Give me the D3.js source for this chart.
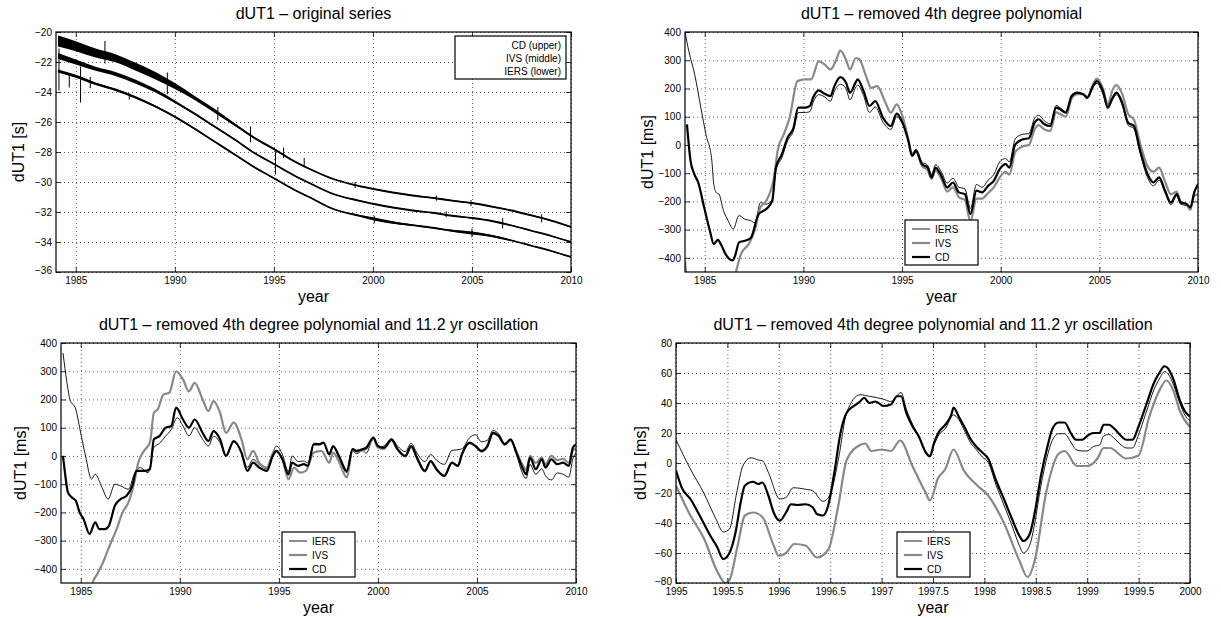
<!DOCTYPE html>
<html>
<head>
<meta charset="utf-8">
<script src="https://cdn.jsdelivr.net/npm/d3@7"></script>
<style>
  body { margin: 0; background: #fff; }
  text { font-family: "Liberation Sans", Arial, Helvetica, sans-serif; fill: #000; }
</style>
</head>
<body>
<svg id="chart" width="1221" height="618"></svg>
<script>
// ---- tick labels ----
const yearTicks = [1985, 1990, 1995, 2000, 2005, 2010];
const secTicks = [-36, -34, -32, -30, -28, -26, -24, -22, -20];
const msTicks = [-400, -300, -200, -100, 0, 100, 200, 300, 400];
const zoomYearTicks = [1995, 1995.5, 1996, 1996.5, 1997, 1997.5, 1998, 1998.5, 1999, 1999.5, 2000];
const zoomMsTicks = [-80, -60, -40, -20, 0, 20, 40, 60, 80];

// ---- panel 1: original series [s] ----
const p1Years = [1984.1,1985,1986,1987,1988,1989,1990,1991,1992,1993,1994,1995,1996,1997,1998,1998.5,1999,2000,2001,2002,2003,2004,2005,2006,2007,2008,2009,2010];
const p1CD   = [-20.6,-20.95,-21.4,-21.75,-22.3,-22.9,-23.6,-24.4,-25.25,-26.15,-27.05,-27.8,-28.6,-29.25,-29.8,-30.0,-30.18,-30.46,-30.7,-30.9,-31.06,-31.24,-31.4,-31.64,-31.9,-32.23,-32.57,-33.0];
const p1IVS  = [-21.6,-22.0,-22.45,-22.8,-23.3,-23.9,-24.65,-25.45,-26.3,-27.15,-28.05,-28.8,-29.55,-30.2,-30.8,-31.0,-31.15,-31.45,-31.7,-31.9,-32.05,-32.25,-32.4,-32.6,-32.9,-33.25,-33.6,-34.0];
const p1IERS = [-22.6,-22.95,-23.45,-23.85,-24.35,-24.95,-25.65,-26.45,-27.3,-28.15,-29.0,-29.75,-30.5,-31.15,-31.8,-32.0,-32.15,-32.45,-32.7,-32.88,-33.05,-33.25,-33.4,-33.6,-33.9,-34.25,-34.6,-35.0];
// scatter half-width of each series [s]
const p1CDSpread   = [0.36,0.33,0.3,0.27,0.26,0.25,0.2,0.14,0.13,0.09,0.07,0.06,0.05,0.04,0.04,0.04,0.04,0.04,0.04,0.04,0.04,0.04,0.04,0.04,0.04,0.04,0.04,0.04];
const p1IVSSpread  = [0.2,0.17,0.14,0.14,0.13,0.11,0.09,0.06,0.05,0.05,0.04,0.04,0.04,0.04,0.04,0.04,0.04,0.04,0.04,0.04,0.04,0.04,0.04,0.04,0.04,0.04,0.04,0.04];
const p1IERSSpread = [0.1,0.1,0.09,0.08,0.08,0.07,0.06,0.05,0.04,0.04,0.04,0.04,0.04,0.04,0.04,0.04,0.04,0.1,0.08,0.04,0.04,0.06,0.1,0.06,0.04,0.04,0.04,0.04];
// outliers: [year, low, high]
const p1Spikes = [[1984.15,-21.1,-23.9],[1984.67,-22.8,-23.7],[1985.24,-22.3,-24.7],[1985.73,-23.0,-23.75],[1986.47,-20.6,-22.1],[1987.7,-24.1,-24.5],[1989.62,-22.7,-24.15],[1992.17,-25.0,-25.9],[1993.82,-26.3,-27.35],[1995.08,-27.95,-29.5],[1995.49,-27.7,-28.4],[1996.53,-28.4,-29.0],[1999.1,-30.0,-30.4],[2000.07,-32.25,-32.75],[2003.2,-30.9,-31.25],[2003.7,-31.95,-32.35],[2004.95,-31.2,-31.6],[2005.0,-33.1,-33.7],[2006.55,-32.4,-33.1],[2008.52,-32.15,-32.7]];

// ---- panel 2: removed 4th degree polynomial [ms] ----
const p2IERS = [[1984.0,400],[1984.2,330],[1984.49,250],[1984.81,130],[1985.06,38],[1985.36,-56],[1985.46,-140],[1985.6,-170],[1985.72,-174],[1985.95,-233],[1986.2,-270],[1986.44,-298],[1986.74,-250],[1987.0,-262],[1987.33,-268],[1987.55,-276],[1987.82,-204],[1988.1,-210],[1988.42,-195],[1988.61,-90],[1988.91,-45],[1989.2,15],[1989.5,50],[1989.74,115],[1990.1,115],[1990.33,118],[1990.49,150],[1990.78,178],[1991.08,170],[1991.37,155],[1991.57,190],[1991.87,215],[1992.16,200],[1992.36,160],[1992.66,205],[1992.75,212],[1993.05,175],[1993.35,115],[1993.64,135],[1994.04,80],[1994.43,55],[1994.73,100],[1995.02,75],[1995.32,20],[1995.51,-30],[1995.71,-15],[1996.01,-60],[1996.3,-72],[1996.5,-105],[1996.7,-70],[1996.99,-95],[1997.29,-135],[1997.58,-118],[1997.88,-150],[1998.18,-155],[1998.47,-225],[1998.77,-140],[1999.06,-150],[1999.36,-125],[1999.65,-105],[1999.95,-60],[2000.25,-48],[2000.44,-60],[2000.74,22],[2001.13,38],[2001.43,40],[2001.72,95],[2001.92,105],[2002.22,85],[2002.51,75],[2002.81,140],[2003.01,132],[2003.3,118],[2003.6,178],[2003.89,185],[2004.19,178],[2004.39,165],[2004.68,205],[2004.88,218],[2005.18,180],[2005.43,128],[2005.67,160],[2005.87,178],[2006.16,140],[2006.46,70],[2006.75,58],[2007.05,-25],[2007.44,-115],[2007.74,-145],[2008.03,-125],[2008.33,-170],[2008.63,-212],[2008.92,-180],[2009.12,-210],[2009.42,-215],[2009.61,-225],[2009.81,-170],[2010,-140]];
const p2IVS = [[1984.0,-410],[1984.1,-470],[1986.5,-470],[1986.58,-450],[1986.84,-386],[1987.23,-351],[1987.53,-304],[1987.82,-221],[1988.12,-198],[1988.51,-115],[1988.71,-15],[1989.01,38],[1989.3,96],[1989.7,226],[1990.09,232],[1990.39,232],[1990.78,296],[1991.08,285],[1991.37,267],[1991.67,302],[1991.87,334],[1992.16,302],[1992.36,267],[1992.66,308],[1992.85,302],[1993.15,249],[1993.44,202],[1993.74,208],[1994.13,155],[1994.43,114],[1994.73,144],[1995.02,102],[1995.32,20],[1995.51,-35],[1995.71,-25],[1996.01,-75],[1996.3,-90],[1996.5,-120],[1996.7,-90],[1996.99,-120],[1997.29,-165],[1997.58,-150],[1997.88,-185],[1998.18,-195],[1998.47,-270],[1998.77,-190],[1999.06,-190],[1999.36,-170],[1999.65,-150],[1999.95,-115],[2000.25,-95],[2000.44,-105],[2000.74,-25],[2001.13,-5],[2001.43,0],[2001.72,55],[2001.92,70],[2002.22,55],[2002.51,50],[2002.81,115],[2003.01,110],[2003.3,100],[2003.6,165],[2003.89,180],[2004.19,180],[2004.39,170],[2004.68,215],[2004.88,235],[2005.18,200],[2005.43,145],[2005.67,195],[2005.87,212],[2006.16,180],[2006.46,110],[2006.75,90],[2007.05,10],[2007.44,-75],[2007.74,-95],[2008.03,-80],[2008.33,-130],[2008.63,-175],[2008.92,-165],[2009.12,-200],[2009.42,-210],[2009.61,-230],[2009.81,-180],[2010,-175]];
const p2CD = [[1984.1,73],[1984.28,-56],[1984.47,-103],[1984.67,-133],[1984.97,-221],[1985.26,-304],[1985.46,-351],[1985.66,-336],[1985.85,-356],[1986.05,-386],[1986.41,-409],[1986.54,-392],[1986.74,-345],[1987.04,-339],[1987.33,-330],[1987.73,-245],[1988.12,-227],[1988.42,-198],[1988.61,-80],[1988.91,-33],[1989.2,26],[1989.5,61],[1989.74,132],[1990.1,132],[1990.33,138],[1990.49,167],[1990.78,193],[1991.08,181],[1991.37,173],[1991.57,208],[1991.87,240],[1992.16,220],[1992.36,185],[1992.66,223],[1992.75,232],[1993.05,191],[1993.35,138],[1993.64,155],[1994.04,96],[1994.43,67],[1994.73,111],[1995.02,79],[1995.32,14],[1995.51,-39],[1995.71,-21],[1996.01,-68],[1996.3,-80],[1996.5,-115],[1996.7,-80],[1996.99,-109],[1997.29,-151],[1997.58,-133],[1997.88,-168],[1998.18,-174],[1998.47,-245],[1998.77,-162],[1999.06,-168],[1999.36,-145],[1999.65,-127],[1999.95,-86],[2000.25,-68],[2000.44,-80],[2000.74,2],[2001.13,20],[2001.43,24],[2001.72,79],[2001.92,91],[2002.22,73],[2002.51,67],[2002.81,132],[2003.01,126],[2003.3,114],[2003.6,173],[2003.89,185],[2004.19,179],[2004.39,167],[2004.68,208],[2004.88,226],[2005.18,191],[2005.43,134],[2005.67,167],[2005.87,185],[2006.16,149],[2006.46,79],[2006.75,67],[2007.05,-15],[2007.44,-103],[2007.74,-133],[2008.03,-115],[2008.33,-162],[2008.63,-204],[2008.92,-174],[2009.12,-204],[2009.42,-209],[2009.61,-221],[2009.81,-168],[2010,-139]];

// ---- panel 3: removed polynomial and 11.2 yr oscillation [ms] ----
const p3IERS = [[1984.1,365],[1984.3,260],[1984.45,200],[1984.75,165],[1984.94,100],[1985.24,0],[1985.54,-82],[1985.73,-65],[1986.07,-112],[1986.38,-153],[1986.72,-100],[1987.01,-106],[1987.4,-118],[1987.7,-65],[1988.0,-41],[1988.39,-60],[1988.69,30],[1988.98,45],[1989.28,70],[1989.57,94],[1989.87,135],[1990.16,106],[1990.46,71],[1990.75,100],[1991.15,59],[1991.44,35],[1991.7,70],[1992.03,47],[1992.33,0],[1992.72,48],[1993.11,15],[1993.41,-40],[1993.7,-12],[1994.0,-30],[1994.39,-45],[1994.69,12],[1994.88,35],[1995.18,5],[1995.48,-55],[1995.67,0],[1995.97,-20],[1996.26,-18],[1996.46,-25],[1996.76,45],[1997.05,44],[1997.25,46],[1997.54,3],[1997.74,32],[1998.03,-5],[1998.43,-60],[1998.72,17],[1998.92,8],[1999.22,19],[1999.41,10],[1999.77,61],[2000.0,30],[2000.3,35],[2000.69,60],[2000.99,35],[2001.38,15],[2001.68,45],[2001.97,10],[2002.37,-20],[2002.66,5],[2002.96,-15],[2003.35,-30],[2003.74,20],[2004.04,22],[2004.24,25],[2004.63,65],[2004.93,75],[2005.22,50],[2005.52,55],[2005.81,90],[2006.1,78],[2006.4,45],[2006.7,55],[2006.99,5],[2007.29,-60],[2007.48,-80],[2007.68,-30],[2007.97,-65],[2008.27,-45],[2008.46,-70],[2008.76,-85],[2009.05,-60],[2009.35,-65],[2009.64,-75],[2009.84,-10],[2010,10]];
const p3IVS = [[1984.1,-480],[1985.55,-480],[1985.6,-450],[1985.83,-418],[1986.13,-376],[1986.42,-324],[1986.81,-259],[1987.11,-200],[1987.4,-165],[1987.7,-94],[1987.9,-24],[1988.19,18],[1988.49,47],[1988.69,153],[1988.88,165],[1989.18,218],[1989.47,224],[1989.81,300],[1990.16,271],[1990.46,229],[1990.75,259],[1991.15,200],[1991.44,159],[1991.7,194],[1992.03,153],[1992.33,82],[1992.72,118],[1993.11,59],[1993.41,-12],[1993.7,18],[1994.0,-24],[1994.39,-41],[1994.78,18],[1995.18,-12],[1995.48,-82],[1995.77,-41],[1996.07,-59],[1996.36,-53],[1996.76,12],[1997.15,18],[1997.54,-24],[1997.74,12],[1998.03,-20],[1998.43,-76],[1998.72,24],[1998.92,15],[1999.22,20],[1999.41,25],[1999.77,60],[2000.0,30],[2000.3,25],[2000.69,55],[2000.99,22],[2001.38,-2],[2001.68,32],[2001.97,-8],[2002.37,-55],[2002.66,-20],[2002.96,-48],[2003.35,-70],[2003.74,-25],[2004.04,-35],[2004.24,5],[2004.63,45],[2004.93,35],[2005.22,15],[2005.52,32],[2005.81,80],[2006.1,70],[2006.4,40],[2006.7,55],[2006.99,15],[2007.29,-30],[2007.48,-50],[2007.68,0],[2007.97,-25],[2008.27,-5],[2008.46,-30],[2008.76,0],[2009.05,-15],[2009.35,-10],[2009.64,-25],[2009.84,20],[2010,25]];
const p3CD = [[1984.1,0],[1984.2,-59],[1984.35,-129],[1984.55,-147],[1984.75,-159],[1984.94,-200],[1985.14,-224],[1985.44,-276],[1985.73,-235],[1985.93,-259],[1986.22,-259],[1986.42,-247],[1986.72,-176],[1987.01,-153],[1987.31,-141],[1987.6,-106],[1987.8,-53],[1988.19,-53],[1988.49,-47],[1988.69,59],[1988.98,71],[1989.28,100],[1989.57,106],[1989.81,171],[1990.16,129],[1990.46,100],[1990.75,129],[1991.15,82],[1991.44,53],[1991.7,88],[1992.03,59],[1992.33,0],[1992.72,53],[1993.11,12],[1993.41,-53],[1993.7,-24],[1994.0,-41],[1994.39,-53],[1994.69,0],[1994.88,18],[1995.18,-12],[1995.48,-65],[1995.67,-24],[1995.97,-35],[1996.26,-29],[1996.46,-35],[1996.76,41],[1997.05,41],[1997.25,47],[1997.54,6],[1997.74,35],[1998.03,0],[1998.43,-53],[1998.72,24],[1998.92,18],[1999.22,24],[1999.41,29],[1999.77,65],[2000.0,35],[2000.3,29],[2000.69,59],[2000.99,24],[2001.38,0],[2001.68,35],[2001.97,-6],[2002.37,-53],[2002.66,-18],[2002.96,-47],[2003.35,-71],[2003.74,-24],[2004.04,-35],[2004.24,6],[2004.63,47],[2004.93,35],[2005.22,18],[2005.52,35],[2005.81,82],[2006.1,71],[2006.4,41],[2006.7,59],[2006.99,12],[2007.29,-41],[2007.48,-65],[2007.68,-6],[2007.97,-47],[2008.27,-12],[2008.46,-41],[2008.76,-12],[2009.05,-29],[2009.35,-24],[2009.64,-35],[2009.84,29],[2010,41]];

// ---- panel 4: zoom 1995-2000 [ms] ----
const p4IERS = [[1995.0,15.5],[1995.14,-4],[1995.27,-20],[1995.39,-37.5],[1995.46,-46],[1995.52,-44],[1995.59,-20],[1995.65,-2],[1995.73,3.5],[1995.8,2],[1995.84,1.5],[1995.9,-6.5],[1996.01,-24],[1996.07,-23],[1996.14,-16.5],[1996.26,-17.5],[1996.33,-18.5],[1996.43,-25.5],[1996.5,-21],[1996.58,2.5],[1996.66,33.5],[1996.79,45.5],[1996.88,44.5],[1997.02,42.5],[1997.09,41],[1997.19,47],[1997.24,36],[1997.3,26],[1997.36,18],[1997.43,7],[1997.47,4],[1997.51,12],[1997.56,19],[1997.62,23],[1997.7,32],[1997.75,29],[1997.81,21],[1997.87,13],[1997.92,9],[1997.98,4],[1998.04,0],[1998.11,-14],[1998.19,-28],[1998.27,-42],[1998.34,-55],[1998.38,-60],[1998.44,-55],[1998.49,-40],[1998.55,-15],[1998.61,4],[1998.66,15],[1998.72,19.5],[1998.78,19.5],[1998.84,14],[1998.89,9],[1998.95,8],[1999.0,8],[1999.06,11],[1999.12,12],[1999.16,18],[1999.21,19],[1999.27,16],[1999.33,12],[1999.38,10],[1999.44,10],[1999.5,19],[1999.57,33],[1999.65,49],[1999.71,57],[1999.75,61],[1999.78,60],[1999.84,52],[1999.9,40],[1999.95,32],[2000.0,28]];
const p4IVS = [[1995.0,-15],[1995.14,-35],[1995.27,-50],[1995.4,-72],[1995.48,-80],[1995.52,-78],[1995.6,-55],[1995.67,-35],[1995.75,-33],[1995.84,-36],[1995.95,-55],[1996.0,-62],[1996.07,-60],[1996.15,-54],[1996.26,-55],[1996.37,-63],[1996.48,-58],[1996.58,-28],[1996.66,2],[1996.79,12],[1996.84,13],[1996.9,8],[1997.0,9],[1997.09,8],[1997.18,15],[1997.3,-2],[1997.43,-20],[1997.47,-25],[1997.55,-10],[1997.62,-4],[1997.7,9],[1997.8,-5],[1997.93,-15],[1998.04,-22],[1998.19,-40],[1998.34,-65],[1998.42,-76],[1998.49,-65],[1998.6,-20],[1998.72,6],[1998.78,8],[1998.9,-2],[1999.0,-2],[1999.1,3],[1999.16,10],[1999.22,10],[1999.38,3],[1999.5,5],[1999.6,30],[1999.7,48],[1999.77,55],[1999.84,48],[1999.9,35],[2000.0,24]];
const p4CD = [[1995.0,-5],[1995.06,-17],[1995.14,-24],[1995.23,-35],[1995.33,-48],[1995.4,-56],[1995.46,-64],[1995.52,-60],[1995.58,-46],[1995.63,-26],[1995.67,-15],[1995.75,-12.5],[1995.8,-14],[1995.84,-13],[1995.9,-22],[1995.95,-33],[1996.01,-38.5],[1996.07,-33],[1996.12,-27.5],[1996.18,-28],[1996.26,-27.5],[1996.33,-29.5],[1996.37,-34],[1996.43,-35],[1996.48,-28.5],[1996.54,-6.5],[1996.6,20],[1996.66,33.5],[1996.73,38],[1996.79,41],[1996.83,43.5],[1996.88,40],[1996.94,41],[1997.02,38],[1997.09,39],[1997.15,44.5],[1997.19,44.5],[1997.24,33.5],[1997.3,24.5],[1997.36,18],[1997.43,7],[1997.47,4.5],[1997.51,13.5],[1997.56,21],[1997.62,25.5],[1997.68,32.5],[1997.7,37],[1997.75,31],[1997.81,23.5],[1997.87,15.5],[1997.92,11],[1997.98,7],[1998.04,2.5],[1998.11,-11],[1998.19,-24],[1998.27,-37.5],[1998.34,-48.5],[1998.38,-52],[1998.44,-47.5],[1998.49,-33],[1998.55,-8.5],[1998.61,10],[1998.66,22.5],[1998.72,27],[1998.78,27],[1998.84,20],[1998.89,15.5],[1998.95,15.5],[1999.0,18],[1999.06,20],[1999.12,20],[1999.16,25.5],[1999.21,25.5],[1999.27,22.5],[1999.33,18],[1999.38,15.5],[1999.44,15.5],[1999.5,24.5],[1999.57,38],[1999.65,53.5],[1999.71,61],[1999.75,64.5],[1999.78,63.5],[1999.84,55.5],[1999.9,42],[1999.95,34.5],[2000.0,31]];

const seriesNames = ["IERS", "IVS", "CD"];
const p1LegendLabels = ["CD (upper)", "IVS (middle)", "IERS (lower)"];

// styles
const lineStyle = {
  IERS: { stroke: "#000", width: 0.9 },
  IVS:  { stroke: "#888", width: 2.2 },
  CD:   { stroke: "#000", width: 2.2 }
};

const svg = d3.select("#chart");
let clipCount = 0;

function drawFrame(cfg) {
  const g = svg.append("g");
  const x = d3.scaleLinear().domain(cfg.xDomain).range([cfg.left, cfg.right]);
  const y = d3.scaleLinear().domain(cfg.yDomain).range([cfg.bottom, cfg.top]);
  const w = cfg.right - cfg.left, h = cfg.bottom - cfg.top;

  g.append("rect").attr("x", cfg.left).attr("y", cfg.top).attr("width", w).attr("height", h).attr("fill", "#fff");

  // dotted grid
  const grid = g.append("g").attr("class", "grid");
  grid.append("g").attr("transform", `translate(0,${cfg.bottom})`)
    .call(d3.axisBottom(x).tickValues(cfg.xTicks).tickSize(-h).tickFormat(""));
  grid.append("g").attr("transform", `translate(${cfg.left},0)`)
    .call(d3.axisLeft(y).tickValues(cfg.yTicks).tickSize(-w).tickFormat(""));
  grid.selectAll(".domain").remove();
  grid.selectAll("line").attr("stroke", "#222").attr("stroke-width", 0.7).attr("stroke-dasharray", "1,3");

  const id = "clip" + (clipCount++);
  g.append("clipPath").attr("id", id).append("rect")
    .attr("x", cfg.left).attr("y", cfg.top).attr("width", w).attr("height", h);
  const plot = g.append("g").attr("clip-path", `url(#${id})`);

  return { g, x, y, w, h, plot };
}

function drawAxes(cfg, f) {
  const { g, x, y, w, h } = f;
  const fmtX = d => String(d);
  const fmtY = d3.format("");
  const axes = g.append("g");
  axes.append("g").attr("transform", `translate(0,${cfg.bottom})`)
    .call(d3.axisBottom(x).tickValues(cfg.xTicks).tickSize(-5).tickPadding(5).tickFormat(fmtX));
  axes.append("g").attr("transform", `translate(0,${cfg.top})`)
    .call(d3.axisTop(x).tickValues(cfg.xTicks).tickSize(-5).tickFormat(""));
  const left = axes.append("g").attr("transform", `translate(${cfg.left},0)`)
    .call(d3.axisLeft(y).tickValues(cfg.yTicks).tickSize(-5).tickPadding(4).tickFormat(fmtY));
  axes.append("g").attr("transform", `translate(${cfg.right},0)`)
    .call(d3.axisRight(y).tickValues(cfg.yTicks).tickSize(-5).tickFormat(""));
  axes.selectAll(".domain").remove();
  axes.selectAll("line").attr("stroke", "#000").attr("stroke-width", 0.8);
  axes.selectAll("text").attr("font-size", 10).attr("fill", "#111")
    .attr("font-family", "'Liberation Sans', Arial, sans-serif");
  // lowest y label sits a little higher so it clears the first year label
  left.selectAll(".tick text").filter(d => d === cfg.yDomain[0]).attr("dy", "0.1em");

  g.append("rect").attr("x", cfg.left).attr("y", cfg.top).attr("width", w).attr("height", h)
    .attr("fill", "none").attr("stroke", "#000").attr("stroke-width", 1.2);

  g.append("text").attr("x", (cfg.left + cfg.right) / 2).attr("y", cfg.top - 13)
    .attr("text-anchor", "middle").attr("font-size", 16).text(cfg.title);
  g.append("text").attr("x", (cfg.left + cfg.right) / 2).attr("y", cfg.bottom + 30)
    .attr("text-anchor", "middle").attr("font-size", 16).text("year");
  g.append("text")
    .attr("transform", `translate(${cfg.ylabelX},${(cfg.top + cfg.bottom) / 2}) rotate(-90)`)
    .attr("text-anchor", "middle").attr("dy", "0.35em").attr("font-size", 16).text(cfg.ylabel);
}

function drawSeriesPanel(cfg, data) {
  const f = drawFrame(cfg);
  const line = d3.line().x(d => f.x(d[0])).y(d => f.y(d[1])).curve(d3.curveMonotoneX);
  seriesNames.forEach(name => {
    f.plot.append("path").datum(data[name])
      .attr("d", line)
      .attr("fill", "none")
      .attr("stroke", lineStyle[name].stroke)
      .attr("stroke-width", lineStyle[name].width)
      .attr("stroke-linejoin", "round");
  });
  drawAxes(cfg, f);

  // legend
  const lg = f.g.append("g").attr("transform", `translate(${cfg.legend[0]},${cfg.legend[1]})`);
  lg.append("rect").attr("width", 73).attr("height", 45)
    .attr("fill", "#fff").attr("stroke", "#000").attr("stroke-width", 1.2);
  seriesNames.forEach((name, i) => {
    const yy = 9 + i * 14;
    lg.append("line").attr("x1", 7).attr("x2", 25).attr("y1", yy).attr("y2", yy)
      .attr("stroke", lineStyle[name].stroke).attr("stroke-width", lineStyle[name].width);
    lg.append("text").attr("x", 30).attr("y", yy).attr("dy", "0.35em")
      .attr("font-size", 10).text(name);
  });
}

// ---- panel 1 ----
(function () {
  const cfg = {
    left: 56, right: 571, top: 32, bottom: 272,
    xDomain: [1984, 2010], yDomain: [-36, -20],
    xTicks: yearTicks, yTicks: secTicks,
    title: "dUT1 \u2013 original series", ylabel: "dUT1 [s]", ylabelX: 18
  };
  const f = drawFrame(cfg);
  const sets = [[p1CD, p1CDSpread], [p1IVS, p1IVSSpread], [p1IERS, p1IERSSpread]];
  const area = d3.area().curve(d3.curveMonotoneX);
  const line = d3.line().curve(d3.curveMonotoneX);
  sets.forEach(([vals, spread]) => {
    const pts = p1Years.map((yr, i) => [yr, vals[i], spread[i]]);
    f.plot.append("path").datum(pts)
      .attr("d", area.x(d => f.x(d[0])).y0(d => f.y(d[1] - d[2])).y1(d => f.y(d[1] + d[2])))
      .attr("fill", "#000");
    f.plot.append("path").datum(pts)
      .attr("d", line.x(d => f.x(d[0])).y(d => f.y(d[1])))
      .attr("fill", "none").attr("stroke", "#000").attr("stroke-width", 1.8);
  });
  f.plot.selectAll("line.spike").data(p1Spikes).join("line").attr("class", "spike")
    .attr("x1", d => f.x(d[0])).attr("x2", d => f.x(d[0]))
    .attr("y1", d => f.y(d[1])).attr("y2", d => f.y(d[2]))
    .attr("stroke", "#000").attr("stroke-width", 1);
  drawAxes(cfg, f);

  const lg = f.g.append("g").attr("transform", "translate(455,36)");
  lg.append("rect").attr("width", 111).attr("height", 43)
    .attr("fill", "#fff").attr("stroke", "#000").attr("stroke-width", 1.2);
  lg.selectAll("text.lab").data(p1LegendLabels).join("text").attr("class", "lab")
    .attr("x", 106).attr("y", (d, i) => 9 + i * 13).attr("dy", "0.35em")
    .attr("text-anchor", "end").attr("font-size", 10).text(d => d);
})();

// ---- panel 2 ----
drawSeriesPanel({
  left: 685, right: 1198, top: 32, bottom: 272,
  xDomain: [1984, 2010], yDomain: [-450, 400],
  xTicks: yearTicks, yTicks: msTicks,
  title: "dUT1 \u2013 removed 4th degree polynomial", ylabel: "dUT1 [ms]", ylabelX: 647,
  legend: [905, 220]
}, { IERS: p2IERS, IVS: p2IVS, CD: p2CD });

// ---- panel 3 ----
drawSeriesPanel({
  left: 61, right: 576, top: 343, bottom: 583,
  xDomain: [1984, 2010], yDomain: [-450, 400],
  xTicks: yearTicks, yTicks: msTicks,
  title: "dUT1 \u2013 removed 4th degree polynomial and 11.2 yr oscillation", ylabel: "dUT1 [ms]", ylabelX: 20,
  legend: [282, 532]
}, { IERS: p3IERS, IVS: p3IVS, CD: p3CD });

// ---- panel 4 ----
drawSeriesPanel({
  left: 676, right: 1190, top: 343, bottom: 583,
  xDomain: [1995, 2000], yDomain: [-80, 80],
  xTicks: zoomYearTicks, yTicks: zoomMsTicks,
  title: "dUT1 \u2013 removed 4th degree polynomial and 11.2 yr oscillation", ylabel: "dUT1 [ms]", ylabelX: 640,
  legend: [897, 532]
}, { IERS: p4IERS, IVS: p4IVS, CD: p4CD });
</script>
</body>
</html>
